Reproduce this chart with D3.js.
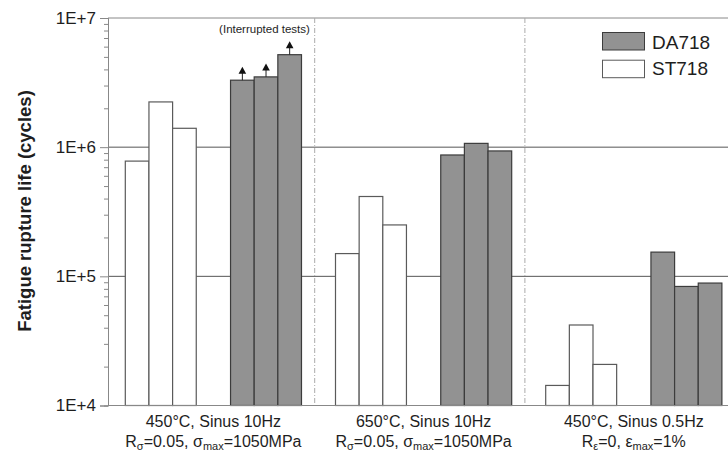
<!DOCTYPE html>
<html><head><meta charset="utf-8">
<script src="https://cdn.jsdelivr.net/npm/d3@7/dist/d3.min.js"></script>
<style>body{margin:0;background:#fff}svg{display:block}text{font-family:"Liberation Sans",Arial,sans-serif;fill:#1e1e1e}</style>
</head><body><svg id="c" width="728" height="454"></svg>
<script>
const groups = ["g1","g2","g3"];
const groupLine1 = ["450°C, Sinus 10Hz","650°C, Sinus 10Hz","450°C, Sinus 0.5Hz"];
const groupLine2 = [
  [["R",""],["σ","sub"],["=0.05, σ",""],["max","sub"],["=1050MPa",""]],
  [["R",""],["σ","sub"],["=0.05, σ",""],["max","sub"],["=1050MPa",""]],
  [["R",""],["ε","sub"],["=0, ε",""],["max","sub"],["=1%",""]]
];
const st718 = [[7.8e5,2.24e6,1.4e6],[1.5e5,4.15e5,2.5e5],[1.43e4,4.2e4,2.08e4]];
const da718 = [[3.3e6,3.5e6,5.2e6],[8.7e5,1.07e6,9.35e5],[1.54e5,8.35e4,8.87e4]];
const interrupted = [[true,true,true],[false,false,false],[false,false,false]];
const majorTicks = [1e4,1e5,1e6,1e7];
const majorLabels = ["1E+4","1E+5","1E+6","1E+7"];
const legendItems = [["DA718","#929292","#3c3c3c"],["ST718","#ffffff","#5a5a5a"]];

const svg = d3.select("#c");
const L = 108, T = 18, B = 405.5, R = 728;
const y = d3.scaleLog().domain([1e4,1e7]).range([B,T]);
const x0 = d3.scaleBand().domain(groups).range([L, L+3*210.2]).padding(0);
const barW = 23.65;
const xin = d3.scaleLinear().domain([0,1]).range([17.3, 17.3+barW]);
const stSlots = [0,1,2], daSlots = [4.45,5.45,6.45];

// grid lines
svg.append("g").selectAll("line").data([1e5,1e6]).join("line")
  .attr("x1",L).attr("x2",R).attr("y1",d=>y(d)).attr("y2",d=>y(d))
  .attr("stroke","#555").attr("stroke-width",1);
// top frame
svg.append("line").attr("x1",L).attr("x2",R).attr("y1",y(1e7)).attr("y2",y(1e7)).attr("stroke","#888");
// separators
svg.append("g").selectAll("line").data(groups.slice(1)).join("line")
  .attr("x1",d=>x0(d)-3.5).attr("x2",d=>x0(d)-3.5).attr("y1",T).attr("y2",B)
  .attr("stroke","#aaa").attr("stroke-width",1).attr("stroke-dasharray","5,2,1,2");

// bars
groups.forEach((g,gi)=>{
  const gg = svg.append("g");
  gg.selectAll("rect.st").data(st718[gi]).join("rect").attr("class","st")
    .attr("x",(d,i)=>x0(g)+xin(stSlots[i])).attr("width",barW)
    .attr("y",d=>y(d)).attr("height",d=>y(1e4)-y(d))
    .attr("fill","#fff").attr("stroke","#5a5a5a").attr("stroke-width",1.2);
  gg.selectAll("rect.da").data(da718[gi]).join("rect").attr("class","da")
    .attr("x",(d,i)=>x0(g)+xin(daSlots[i])).attr("width",barW)
    .attr("y",d=>y(d)).attr("height",d=>y(1e4)-y(d))
    .attr("fill","#929292").attr("stroke","#3c3c3c").attr("stroke-width",1.2);
  // arrows
  da718[gi].forEach((d,i)=>{
    if(!interrupted[gi][i]) return;
    const cx = x0(g)+xin(daSlots[i])+barW/2, top = y(d);
    gg.append("line").attr("x1",cx).attr("x2",cx).attr("y1",top).attr("y2",top-8).attr("stroke","#222").attr("stroke-width",1);
    gg.append("path").attr("d",`M${cx-3.8},${top-6.5}L${cx+3.8},${top-6.5}L${cx},${top-13.5}Z`).attr("fill","#111");
  });
  // labels
  const cx = x0(g)+ (xin(0) + xin(daSlots[2]+1))/2;
  svg.append("text").attr("x",cx).attr("y",427).attr("text-anchor","middle").attr("font-size",16).text(groupLine1[gi]);
  const t = svg.append("text").attr("x",cx).attr("y",446.5).attr("text-anchor","middle").attr("font-size",16);
  groupLine2[gi].forEach(([s,k],j)=>{
    const ts = t.append("tspan").text(s);
    if(k==="sub") ts.attr("font-size",11).attr("dy",3.5);
    else if(j>0) ts.attr("dy",-3.5);
  });
});
svg.append("text").attr("x",264.5).attr("y",33).attr("text-anchor","middle").attr("font-size",11.5).text("(Interrupted tests)");

// bottom axis line
svg.append("line").attr("x1",L).attr("x2",R).attr("y1",B).attr("y2",B).attr("stroke","#888");

// y axis
const minor = [];
[1e4,1e5,1e6].forEach(b=>{for(let k=2;k<=9;k++) minor.push(b*k);});
const ax = svg.append("g").attr("transform",`translate(${L},0)`);
ax.call(d3.axisLeft(y).tickValues(majorTicks).tickFormat((d,i)=>majorLabels[i]).tickSize(8).tickPadding(4));
const mx = svg.append("g").attr("transform",`translate(${L},0)`);
mx.call(d3.axisLeft(y).tickValues(minor).tickFormat("").tickSize(4));
[ax,mx].forEach(a=>{a.select(".domain").attr("stroke","#888");a.selectAll(".tick line").attr("stroke","#888");});
ax.selectAll(".tick text").attr("font-size",17).attr("font-family","'Liberation Sans',Arial,sans-serif").attr("fill","#1e1e1e");

svg.append("text").attr("transform","translate(31,211) rotate(-90)").attr("text-anchor","middle")
  .attr("font-size",18.5).attr("font-weight","bold").text("Fatigue rupture life (cycles)");

// legend
const lg = svg.append("g");
legendItems.forEach(([name,fill,stroke],i)=>{
  lg.append("rect").attr("x",602.5).attr("y",32.5+i*27.7).attr("width",42).attr("height",17.5)
    .attr("fill",fill).attr("stroke",stroke).attr("stroke-width",1);
  lg.append("text").attr("x",652).attr("y",48.5+i*26.5).attr("font-size",19).text(name);
});
</script></body></html>
